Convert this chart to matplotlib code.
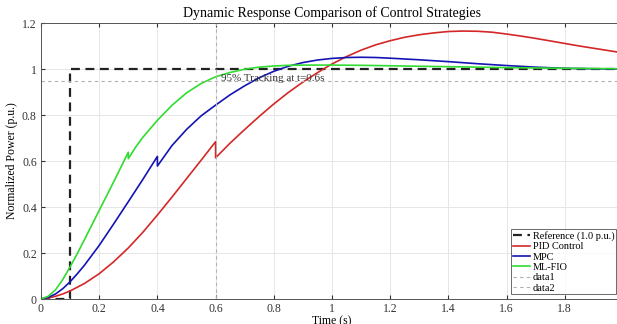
import numpy as np
import matplotlib
matplotlib.use("Agg")
import matplotlib.pyplot as plt

# ================================
# DATA
# ================================
ref_t = [0, 0.1, 0.1, 2.0]
ref_y = [0, 0, 1.0, 1.0]

pid_t = [0, 0.025, 0.05, 0.075, 0.1, 0.15, 0.2, 0.25, 0.3, 0.35, 0.4, 0.45, 0.5, 0.55, 0.6, 0.6,
         0.65, 0.7, 0.75, 0.8, 0.85, 0.9, 0.95, 1.0, 1.05, 1.1, 1.15, 1.2, 1.25, 1.3,
         1.35, 1.4, 1.45, 1.5, 1.55, 1.6, 1.65, 1.7, 1.75, 1.8, 1.85, 1.9, 1.95, 2.0]
pid_y = [0, 0.004, 0.012, 0.022, 0.035, 0.068, 0.11, 0.162, 0.222, 0.29, 0.365, 0.443, 0.523, 0.603, 0.684, 0.614,
         0.678, 0.737, 0.794, 0.848, 0.898, 0.943, 0.984, 1.022, 1.054, 1.082, 1.105, 1.123, 1.138, 1.149,
         1.157, 1.163, 1.165, 1.164, 1.16, 1.152, 1.143, 1.133, 1.122, 1.111, 1.1, 1.09, 1.08, 1.07]

mpc_t = [0, 0.025, 0.05, 0.075, 0.1, 0.125, 0.15, 0.2, 0.25, 0.3, 0.35, 0.4, 0.4, 0.45, 0.5, 0.55, 0.6, 0.65,
         0.7, 0.75, 0.8, 0.85, 0.9, 0.95, 1.0, 1.05, 1.1, 1.15, 1.2, 1.3, 1.4, 1.5, 1.6, 1.7, 1.8, 1.9, 2.0]
mpc_y = [0, 0.007, 0.022, 0.045, 0.075, 0.11, 0.148, 0.233, 0.327, 0.423, 0.52, 0.62, 0.578, 0.667, 0.737,
         0.796, 0.843, 0.888, 0.927, 0.962, 0.99, 1.012, 1.028, 1.039, 1.046, 1.05, 1.051, 1.05, 1.047,
         1.04, 1.032, 1.023, 1.015, 1.008, 1.003, 1.001, 1.0]

fio_t = [0, 0.025, 0.05, 0.075, 0.1, 0.125, 0.15, 0.2, 0.25, 0.3, 0.3, 0.325, 0.35, 0.4, 0.45, 0.5, 0.55,
         0.6, 0.65, 0.7, 0.75, 0.8, 0.85, 0.9, 1.0, 1.1, 1.2, 1.4, 1.6, 1.8, 2.0]
fio_y = [0, 0.012, 0.04, 0.085, 0.14, 0.198, 0.26, 0.385, 0.51, 0.638, 0.61, 0.66, 0.703, 0.777, 0.842,
         0.896, 0.937, 0.966, 0.985, 0.999, 1.008, 1.013, 1.016, 1.017, 1.017, 1.016, 1.014, 1.01, 1.006,
         1.003, 1.001]

track_level = 0.95
track_time = 0.6

# ================================
# PLOT
# ================================
plt.rcParams['font.family'] = ['Liberation Serif', 'DejaVu Serif']

fig = plt.figure(figsize=(6.17, 3.24), dpi=100)
ax = fig.add_axes([41 / 617, 25 / 324, 582 / 617, 276 / 324])

ax.plot(ref_t, ref_y, '--', color='#222222', lw=1.6, dashes=(4, 2.5), label='Reference (1.0 p.u.)')
ax.plot(pid_t, pid_y, color='#d42828', lw=1.2, label='PID Control')
ax.plot(mpc_t, mpc_y, color='#1414b4', lw=1.2, label='MPC')
ax.plot(fio_t, fio_y, color='#30dc30', lw=1.2, label='ML-FIO')
ax.axhline(track_level, color='#b0b0b0', ls='--', lw=0.8, dashes=(3, 3), label='data1')
ax.axvline(track_time, color='#b0b0b0', ls='--', lw=0.8, dashes=(3, 3), label='data2')

ax.text(0.62, 0.957, '95% Tracking at t=0.6s', fontsize=8, color='#333333', va='center')

ax.set_xlim(0, 2)
ax.set_ylim(0, 1.2)
ax.set_xticks([0, 0.2, 0.4, 0.6, 0.8, 1, 1.2, 1.4, 1.6, 1.8])
ax.set_xticklabels(['0', '0.2', '0.4', '0.6', '0.8', '1', '1.2', '1.4', '1.6', '1.8'])
ax.set_yticks([0, 0.2, 0.4, 0.6, 0.8, 1, 1.2])
ax.set_yticklabels(['0', '0.2', '0.4', '0.6', '0.8', '1', '1.2'])
ax.tick_params(direction='in', length=3, labelsize=8.5, colors='#333333',
               top=True, right=True, pad=3)
ax.grid(True, color='#e6e6e6', lw=0.7)
for s in ax.spines.values():
    s.set_color('#555555')
    s.set_linewidth(0.7)

ax.set_title('Dynamic Response Comparison of Control Strategies', fontsize=10, pad=4)
ax.set_xlabel('Time (s)', fontsize=8.5, labelpad=0)
ax.set_ylabel('Normalized Power (p.u.)', fontsize=8.5, labelpad=3)

leg = ax.legend(loc='lower left', bbox_to_anchor=(1.616, 0.02), bbox_transform=ax.transData,
                fontsize=7.4, handlelength=1.7, handletextpad=0.25, labelspacing=0.12,
                borderpad=0.15, borderaxespad=0, frameon=True, fancybox=False)
leg.get_frame().set_edgecolor('#444444')
leg.get_frame().set_linewidth(0.7)

fig.savefig('out.png', dpi=100)
